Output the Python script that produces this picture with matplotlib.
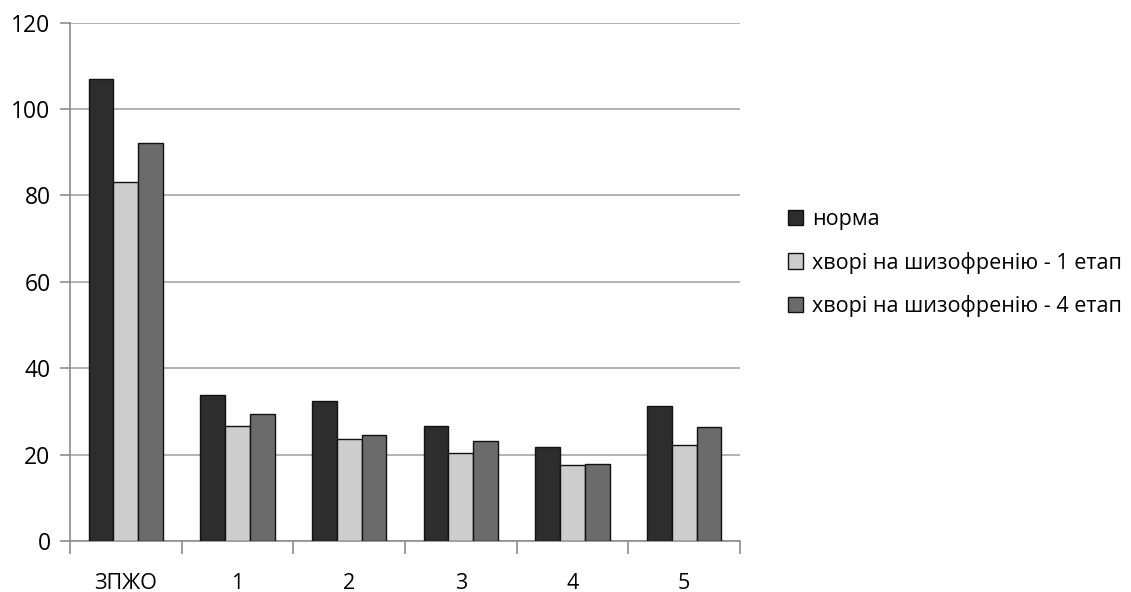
import matplotlib
matplotlib.use("Agg")
import matplotlib.pyplot as plt
import numpy as np
from matplotlib.patches import Patch

categories = ["ЗПЖО", "1", "2", "3", "4", "5"]
norma = [107.0, 33.8, 32.3, 26.7, 21.7, 31.2]
stage1 = [83.2, 26.7, 23.5, 20.3, 17.5, 22.2]
stage4 = [92.0, 29.5, 24.6, 23.1, 17.8, 26.3]
series_labels = ["норма", "хворі на шизофренію - 1 етап", "хворі на шизофренію - 4 етап"]
colors = ["#2d2d2d", "#cdcdcd", "#6b6b6b"]
yticks = [0, 20, 40, 60, 80, 100, 120]

plt.rcParams['font.family'] = ['Open Sans', 'DejaVu Sans']

fig = plt.figure(figsize=(11.31, 5.92), dpi=100)
ax = fig.add_axes([70/1131, 1-541/592, (740-70)/1131, (541-22.5)/592])

x = np.arange(len(categories))
w = 1/4.5
for i, (vals, c, lab) in enumerate(zip([norma, stage1, stage4], colors, series_labels)):
    ax.bar(x + (i-1)*w, vals, width=w, color=c, edgecolor="#111111", linewidth=1.0, label=lab, zorder=3)

ax.set_xlim(-0.5, len(categories)-0.5)
ax.set_ylim(0, 120)
ax.set_yticks(yticks)
ax.set_yticklabels([str(t) for t in yticks], fontsize=16.5)
ax.yaxis.grid(True, color="#a6a6a6", linewidth=1.2, zorder=0)
ax.set_axisbelow(True)

ax.set_xticks(x)
ax.set_xticklabels(categories, fontsize=15.5)
ax.tick_params(axis='x', which='major', length=0, pad=23)
ax.set_xticks(np.arange(-0.5, len(categories)), minor=True)
ax.tick_params(axis='x', which='minor', length=9, direction='out', color="#8c8c8c", width=1.2)
ax.tick_params(axis='y', length=0, pad=14)
for t in yticks:
    ax.plot([-0.5 - 0.08, -0.5], [t, t], color="#8c8c8c", lw=1.2, clip_on=False, zorder=4)

for s in ["top", "right"]:
    ax.spines[s].set_visible(False)
for s in ["left", "bottom"]:
    ax.spines[s].set_color("#8c8c8c")
    ax.spines[s].set_linewidth(1.2)

handles = [Patch(facecolor=c, edgecolor="#111111", linewidth=1.0) for c in colors]
leg = fig.legend(handles, series_labels, loc="upper left", bbox_to_anchor=(788/1131, 1-209/592),
                 frameon=False, fontsize=15.5, handlelength=0.7, handleheight=0.7,
                 handletextpad=0.42, labelspacing=1.0, borderpad=0, borderaxespad=0)

fig.savefig("out.png", dpi=100, facecolor="white")
